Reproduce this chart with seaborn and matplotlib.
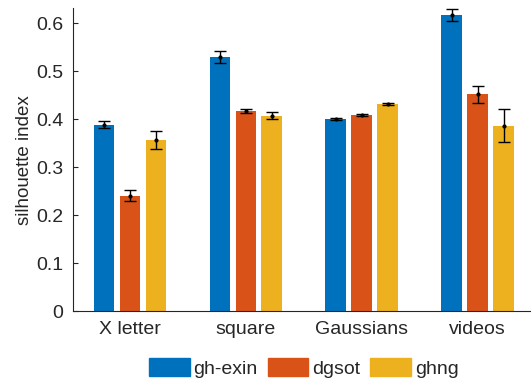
import numpy as np
import pandas as pd
import matplotlib
matplotlib.use("Agg")
import matplotlib.pyplot as plt
import seaborn as sns

categories = ["X letter", "square", "Gaussians", "videos"]
methods = ["gh-exin", "dgsot", "ghng"]
gh_exin = [0.389, 0.530, 0.400, 0.618]
dgsot = [0.241, 0.418, 0.410, 0.452]
ghng = [0.357, 0.408, 0.432, 0.387]
gh_exin_err = [0.008, 0.013, 0.002, 0.012]
dgsot_err = [0.012, 0.004, 0.002, 0.018]
ghng_err = [0.018, 0.008, 0.002, 0.035]
colors = ["#0072BD", "#D95319", "#EDB120"]

rows = []
for m, vals, errs in zip(methods, [gh_exin, dgsot, ghng], [gh_exin_err, dgsot_err, ghng_err]):
    for c, v, e in zip(categories, vals, errs):
        rows.append({"category": c, "method": m, "value": v, "err": e})
df = pd.DataFrame(rows)

sns.set_style("white")
plt.rcParams["font.family"] = ["Liberation Sans", "DejaVu Sans"]

fig = plt.figure(figsize=(5.31, 3.87), dpi=100)
ax = fig.add_axes([0.1375, 0.196, 0.8625, 0.783])

sns.barplot(data=df, x="category", y="value", hue="method", order=categories,
            hue_order=methods, palette=colors, width=0.672, gap=0.2,
            errorbar=None, saturation=1, linewidth=0, ax=ax)

# error bars at bar centers
for container, m in zip(ax.containers, methods):
    sub = df[df.method == m].set_index("category").loc[categories]
    xs = [p.get_x() + p.get_width() / 2 for p in container.patches]
    ax.errorbar(xs, sub["value"].values, yerr=sub["err"].values, fmt="o",
                color="black", markersize=2, elinewidth=1, capsize=4,
                capthick=1)

ax.set_xlim(-0.492, 3.46)
ax.set_ylim(0, 0.632)
ax.set_yticks([0, 0.1, 0.2, 0.3, 0.4, 0.5, 0.6])
ax.set_yticklabels(["0", "0.1", "0.2", "0.3", "0.4", "0.5", "0.6"])
ax.set_xlabel("")
ax.set_ylabel("silhouette index", fontsize=13.5, color="#262626", labelpad=2)
ax.tick_params(axis="both", direction="in", length=3.5, width=0.8,
               labelsize=14, colors="#262626", left=True, bottom=True)
ax.tick_params(axis="x", pad=7)
ax.tick_params(axis="y", pad=7)
for s in ["top", "right"]:
    ax.spines[s].set_visible(False)
for s in ["left", "bottom"]:
    ax.spines[s].set_color("#262626")
    ax.spines[s].set_linewidth(0.8)

ax.legend_.remove()
handles = [plt.Rectangle((0, 0), 1, 1, color=c) for c in colors]
fig.legend(handles, methods, loc="center", bbox_to_anchor=(0.572, 0.049),
           ncol=3, frameon=False, fontsize=14, handlelength=2.1,
           handleheight=1.05, handletextpad=0.2, columnspacing=0.5,
           borderaxespad=0, borderpad=0)

fig.savefig("out.png", dpi=100)
